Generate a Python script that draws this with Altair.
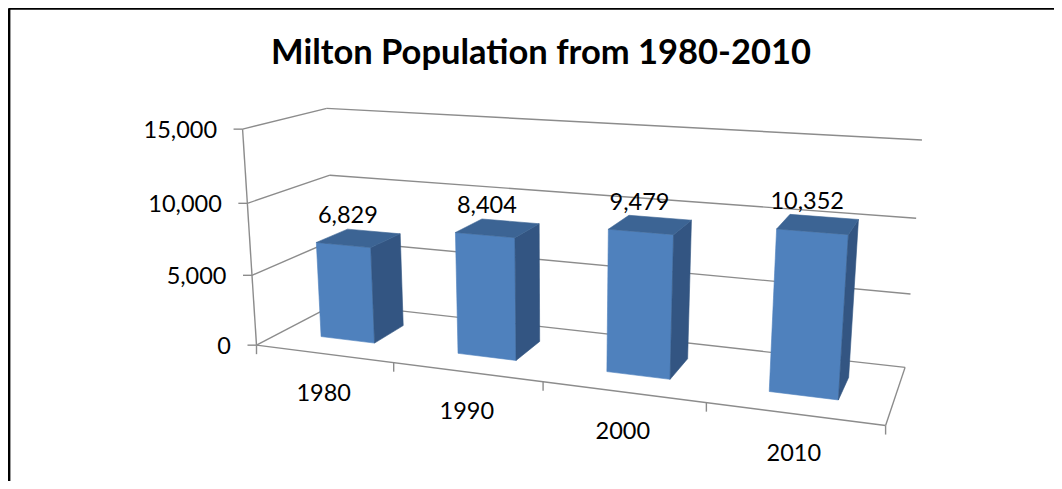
import numpy as np
import pandas as pd
import altair as alt

# ---- chart values -------------------------------------------------------
categories = ["1980", "1990", "2000", "2010"]
population = [6829, 8404, 9479, 10352]
axis_values = [0, 5000, 10000, 15000]
axis_labels = ["0", "5,000", "10,000", "15,000"]
chart_title = "Milton Population from 1980-2010"
outer_title = "Figure 2.8: Milton Population from 1980-2010"

AXIS_MAX = 15000
N = len(categories)
MARGIN = 8
W, H = 1046, 473

# ---- perspective camera of the 3-D box ----------------------------------
# (category position, depth, value) -> page pixel, fitted to the box corners
calib = [
    (0, 0, 0, 257.3, 345), (0, 0, 5000, 252.7, 275), (0, 0, 10000, 246.7, 203.3), (0, 0, 15000, 241.7, 129.3),
    (0, 1, 0, 334, 304), (0, 1, 5000, 334, 239.6), (0, 1, 10000, 330.7, 175.7), (0, 1, 15000, 327, 108),
    (4, 1, 0, 905, 367), (4, 1, 5000, 911, 294.3), (4, 1, 10000, 916, 218.3), (4, 1, 15000, 921.7, 140),
    (1, 0, 0, 394, 363), (2, 0, 0, 542.7, 382), (3, 0, 0, 706, 403), (4, 0, 0, 886, 425),
]
rows = []
for u, d, v, px, py in calib:
    w = np.array([u / 4, d, v / AXIS_MAX, 1.0])
    sx, sy = px / 500, py / 500
    rows.append(np.r_[w, np.zeros(4), -sx * w])
    rows.append(np.r_[np.zeros(4), w, -sy * w])
P = np.linalg.svd(np.array(rows))[2][-1].reshape(3, 4)


def project(u, d, v):
    h = P @ np.array([u / 4, d, v / AXIS_MAX, 1.0])
    return float(h[0] / h[2] * 500 - MARGIN), float(h[1] / h[2] * 500 - MARGIN)


# ---- grid, floor and ticks ----------------------------------------------
lines = []


def add_line(name, a, b, off=(0, 0)):
    for k, p in enumerate((a, b)):
        x, y = project(*p)
        lines.append({"id": name, "k": k, "x": x + off[0] * k, "y": y + off[1] * k})


for v in axis_values:
    add_line(f"back{v}", (0, 1, v), (N, 1, v))
    add_line(f"left{v}", (0, 0, v), (0, 1, v))
    add_line(f"ytick{v}", (0, 0, v), (0, 0, v), (-9, 0))
add_line("axis", (0, 0, 0), (0, 0, AXIS_MAX))
add_line("front", (0, 0, 0), (N, 0, 0))
add_line("right", (N, 0, 0), (N, 1, 0))
for i in range(N + 1):
    add_line(f"xtick{i}", (i, 0, 0), (i, 0, 0), (0, 9))

# ---- bars (gap width / gap depth 150%) ----------------------------------
U0, U1, D0, D1 = 0.3, 0.7, 0.3, 0.7
faces = []


def add_face(kind, bar, corners):
    for k, c in enumerate(corners):
        x, y = project(*c)
        faces.append({"kind": kind, "id": f"{kind}{bar}", "k": k, "x": x, "y": y})


for i, v in enumerate(population):
    a, b = i + U0, i + U1
    add_face("front", i, [(a, D0, 0), (b, D0, 0), (b, D0, v), (a, D0, v)])
    add_face("side", i, [(b, D0, 0), (b, D1, 0), (b, D1, v), (b, D0, v)])
    add_face("top", i, [(a, D0, v), (b, D0, v), (b, D1, v), (a, D1, v)])
faces = pd.DataFrame(faces)

# ---- text ---------------------------------------------------------------
texts = []
for v, t in zip(axis_values, axis_labels):
    x, y = project(0, 0, v)
    texts.append({"x": x - 25.5, "y": y + 2, "t": t, "g": "y"})
for i, c in enumerate(categories):
    x, y = project(i + 0.5, 0, 0)
    texts.append({"x": x, "y": y + 40, "t": c, "g": "c"})
for i, v in enumerate(population):
    x, y = project(i + 0.5, 0.5, v)
    texts.append({"x": x - 11, "y": y - 22, "t": f"{v:,}", "g": "d"})
texts = pd.DataFrame(texts)

X = alt.X("x:Q", scale=alt.Scale(domain=[0, W]), axis=None)
Y = alt.Y("y:Q", scale=alt.Scale(domain=[H, 0]), axis=None)

grid = alt.Chart(pd.DataFrame(lines)).mark_line(color="#8c8c8c", strokeWidth=1.4, clip=False).encode(
    X, Y, detail="id:N", order="k:Q"
)


def face_layer(kind, colour):
    return alt.Chart(faces[faces.kind == kind]).mark_line(
        interpolate="linear-closed", fill=colour, stroke=colour, strokeWidth=0.6
    ).encode(X, Y, detail="id:N", order="k:Q")


front = face_layer("front", "#4f81bd")
side = face_layer("side", "#335582")
top = face_layer("top", "#3c6494")


def text_layer(group, align):
    return alt.Chart(texts[texts.g == group]).mark_text(
        font="Lato", fontSize=23.5, color="#000000", align=align, baseline="middle"
    ).encode(X, Y, text="t:N")


frame = pd.DataFrame([
    {"id": "l", "k": 0, "x": 1, "y": 0.3}, {"id": "l", "k": 1, "x": 1, "y": H},
    {"id": "t", "k": 0, "x": 1, "y": 0.3}, {"id": "t", "k": 1, "x": W, "y": 0.3},
])
frame_layer = alt.Chart(frame).mark_line(color="#000000", strokeWidth=2.8).encode(X, Y, detail="id:N", order="k:Q")

title = pd.DataFrame([{"x": 541 - MARGIN, "y": 54 - MARGIN, "t": chart_title}])
title_layer = alt.Chart(title).mark_text(
    font="Lato", fontSize=34.5, fontWeight="bold", color="#000000", baseline="middle"
).encode(X, Y, text="t:N")
outer = pd.DataFrame([{"x": 541 - MARGIN, "y": -6 - MARGIN, "t": outer_title}])
outer_layer = alt.Chart(outer).mark_text(
    font="Liberation Sans", fontSize=20, fontWeight="bold", color="#000000", baseline="middle"
).encode(X, Y, text="t:N")

chart = alt.layer(
    frame_layer, grid, front, side, top,
    text_layer("y", "right"), text_layer("c", "center"), text_layer("d", "center"),
    title_layer, outer_layer,
).properties(
    width=W, height=H, padding=0, autosize=alt.AutoSizeParams(type="none"), background="#ffffff"
).configure_view(stroke=None)

chart.save("out.html", embed_options={"renderer": "svg", "actions": False})
